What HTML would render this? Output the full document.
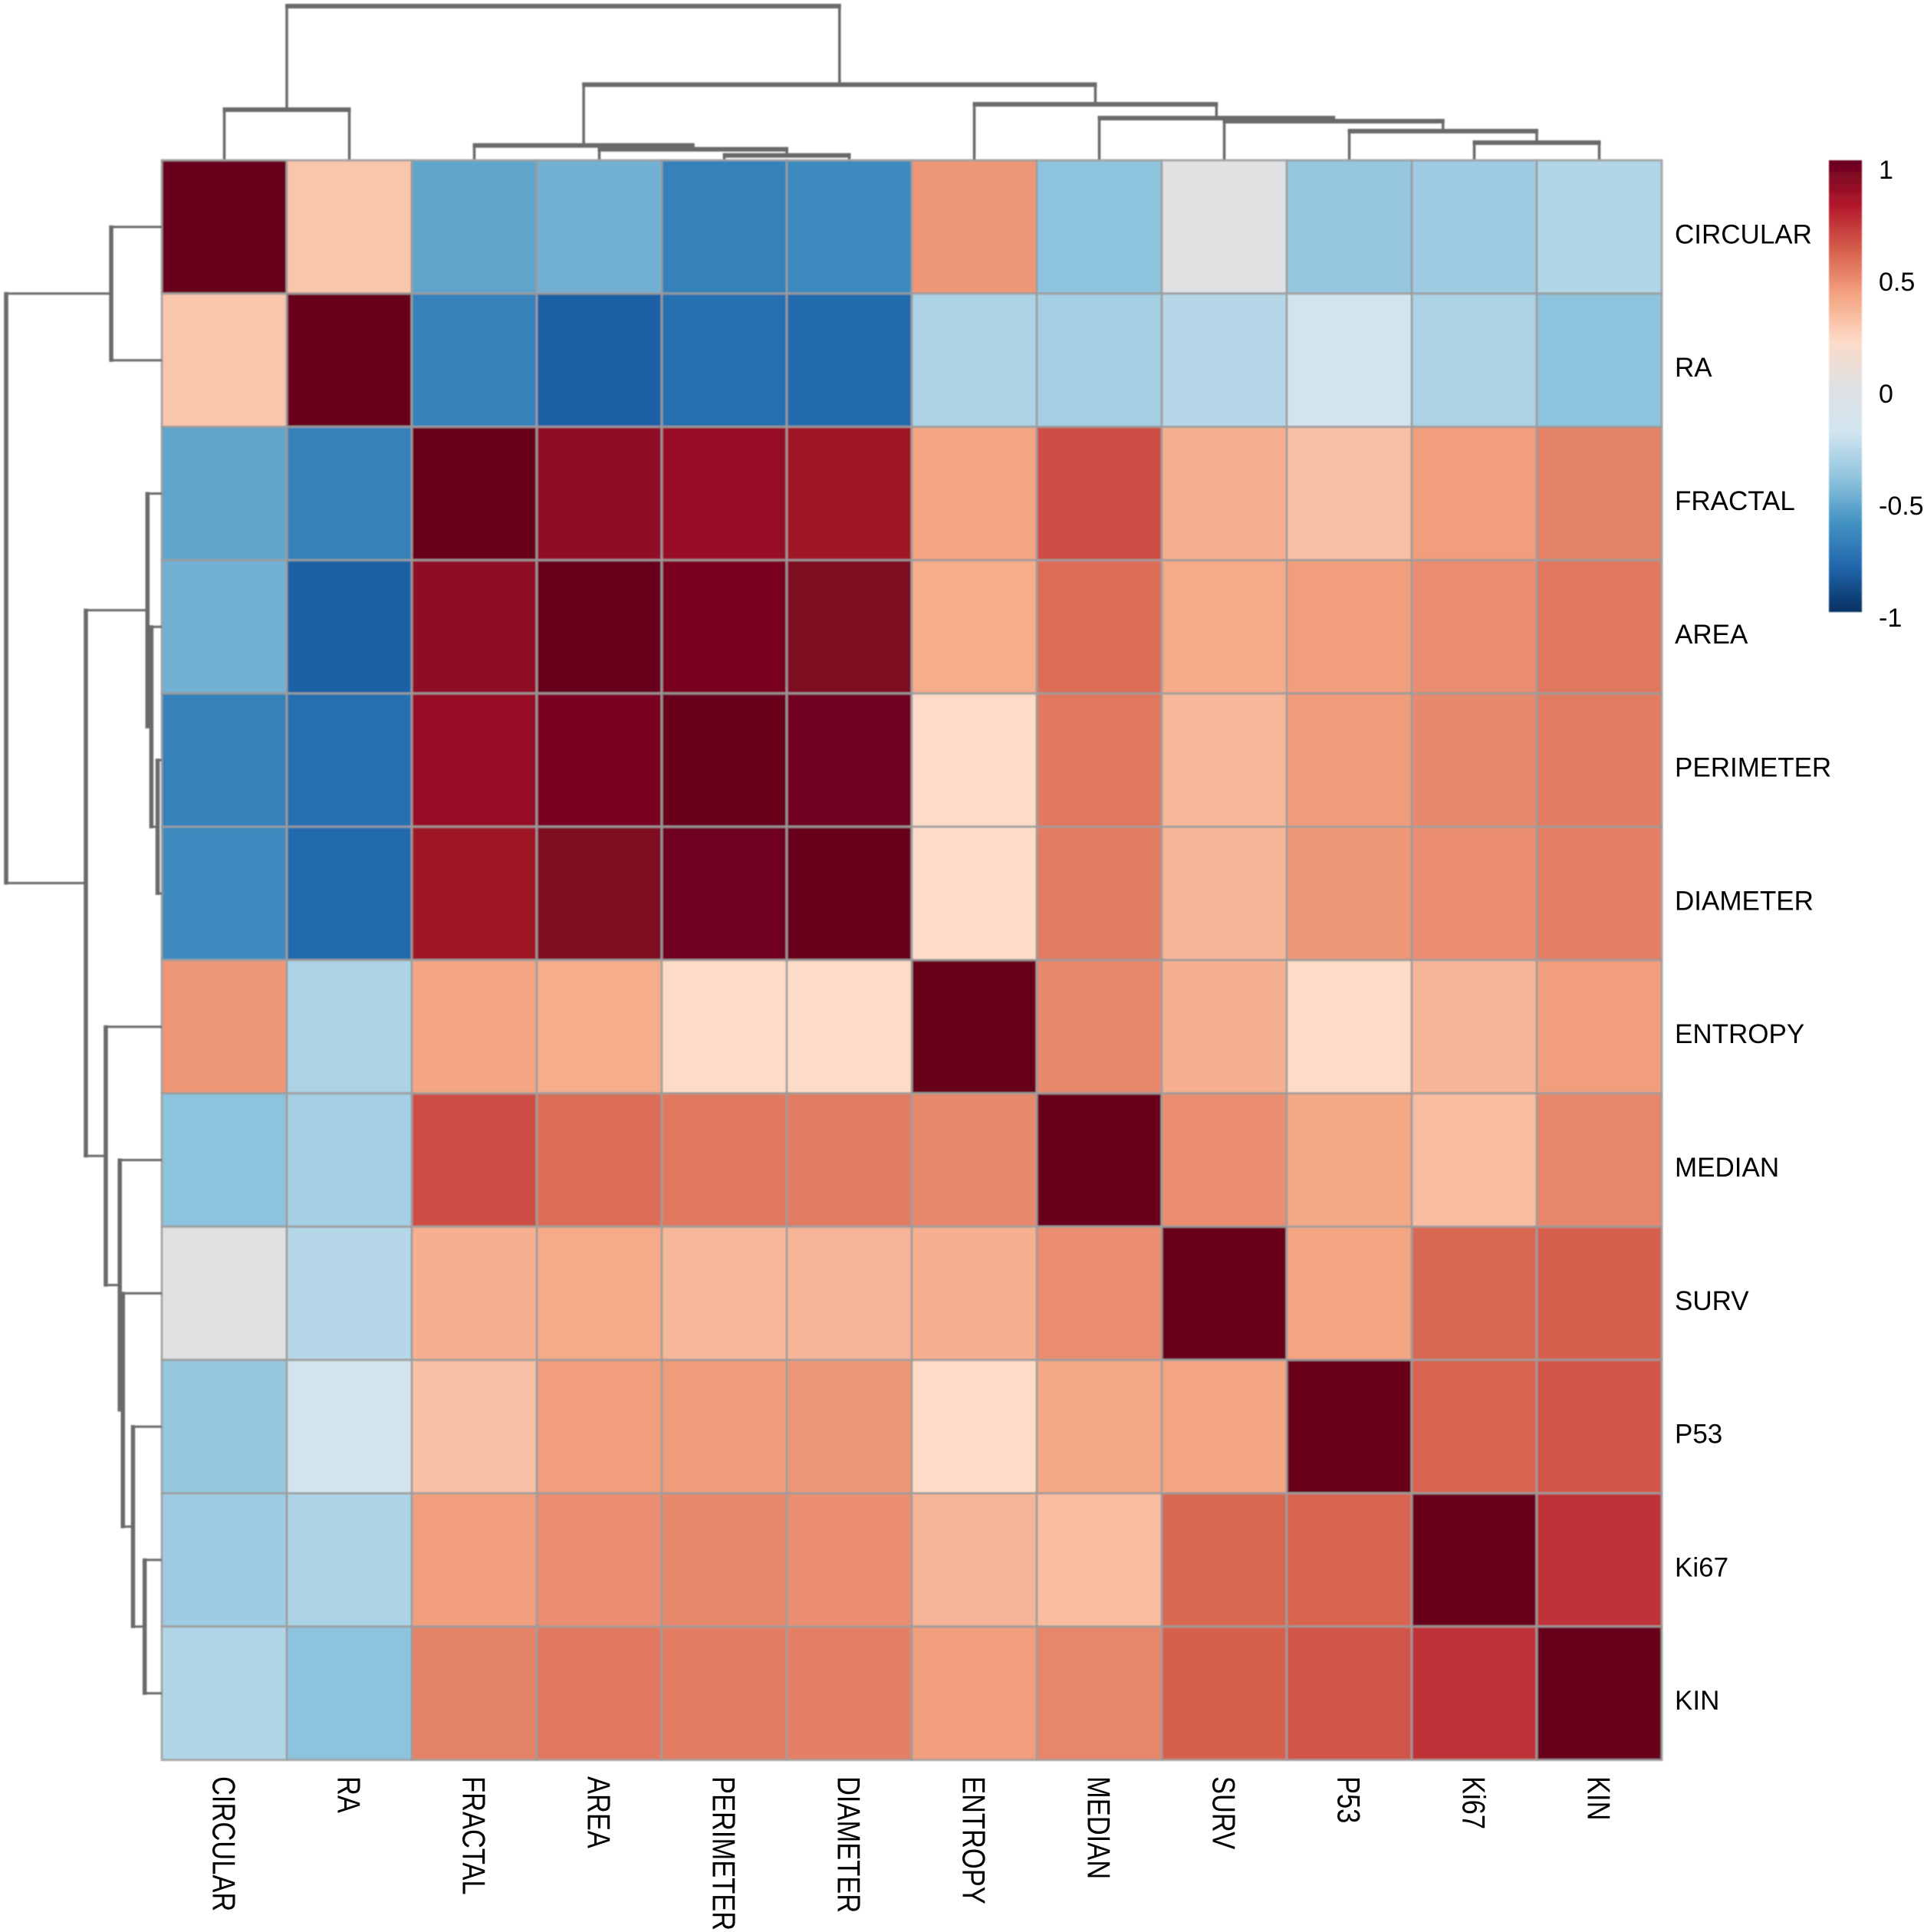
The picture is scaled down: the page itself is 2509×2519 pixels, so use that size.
<!DOCTYPE html>
<html>
<head>
<meta charset="utf-8">
<title>Correlation heatmap</title>
<style>
html,body{margin:0;padding:0;background:#fff;}
svg{display:block;}
text{font-family:"Liberation Sans",sans-serif;fill:#000;}
</style>
</head>
<body>
<svg id="chart" xmlns="http://www.w3.org/2000/svg" width="2509" height="2519" viewBox="0 0 2509 2519">
  <defs>
    <filter id="soft" x="-5%" y="-5%" width="110%" height="110%"><feGaussianBlur stdDeviation="0.8"/></filter>
    <linearGradient id="legend-gradient" x1="0" y1="0" x2="0" y2="1"></linearGradient>
  </defs>
  <rect x="0" y="0" width="2509" height="2519" fill="#ffffff"/>
</svg>
<script>
const variables = ["CIRCULAR","RA","FRACTAL","AREA","PERIMETER","DIAMETER","ENTROPY","MEDIAN","SURV","P53","Ki67","KIN"];

const rowCircular  = [1,.28,-.53,-.48,-.68,-.64,.44,-.41,0,-.39,-.36,-.3];
const rowRa        = [.28,1,-.68,-.82,-.76,-.78,-.32,-.34,-.29,-.18,-.32,-.41];
const rowFractal   = [-.53,-.68,1,.89,.87,.85,.4,.65,.36,.3,.42,.5];
const rowArea      = [-.48,-.82,.89,1,.95,.94,.37,.56,.38,.42,.47,.53];
const rowPerimeter = [-.68,-.76,.87,.95,1,.98,.2,.53,.33,.43,.48,.52];
const rowDiameter  = [-.64,-.78,.85,.94,.98,1,.2,.52,.34,.44,.47,.51];
const rowEntropy   = [.44,-.32,.4,.37,.2,.2,1,.48,.36,.2,.34,.42];
const rowMedian    = [-.41,-.34,.65,.56,.53,.52,.48,1,.47,.39,.31,.49];
const rowSurv      = [0,-.29,.36,.38,.33,.34,.36,.47,1,.4,.58,.6];
const rowP53       = [-.39,-.18,.3,.42,.43,.44,.2,.39,.4,1,.59,.63];
const rowKi67      = [-.36,-.32,.42,.47,.48,.47,.34,.31,.58,.59,1,.73];
const rowKin       = [-.3,-.41,.5,.53,.52,.51,.42,.49,.6,.63,.73,1];

/* Hierarchical clustering: negative ids are leaves (-(index+1)), positive ids are earlier merges (1-based). */
const mergeLeft   = [-5,-4,-3,-11,-10,-9,-8,-7,3,-1,10];
const mergeRight  = [-6,1,2,-12,4,5,6,7,8,-2,9];
const mergeHeight = [.027,.067,.092,.11,.185,.25,.27,.36,.488,.325,1];

const legendTicks = [1,0.5,0,-0.5,-1];
const paletteValues = [-1,-.8,-.6,-.4,-.2,0,.2,.4,.6,.8,1];
const paletteColors = ["#053061","#2166AC","#4393C3","#92C5DE","#D1E5F0","#DFE1E3","#FDDBC7","#F4A582","#D6604D","#B2182B","#67001F"];

const corrRows = [rowCircular,rowRa,rowFractal,rowArea,rowPerimeter,rowDiameter,rowEntropy,rowMedian,rowSurv,rowP53,rowKi67,rowKin];

const NS = "http://www.w3.org/2000/svg";
const svg = document.getElementById("chart");

const gridLeft = 211, gridTop = 209, cellW = 163, cellH = 173.8;
const colX = i => gridLeft + i * cellW;
const rowY = i => gridTop + i * cellH;
const colCenter = i => colX(i) + cellW / 2;
const rowCenter = i => rowY(i) + cellH / 2;
const colDendroY = h => gridTop - 1 - h * 200;
const rowDendroX = h => gridLeft - h * 203;
const legendTop = 209, legendBottom = 798;
const legendTickY = v => 513 - v * 292;

function make(tag, attrs, parent) {
  const el = document.createElementNS(NS, tag);
  for (const k in attrs) el.setAttribute(k, attrs[k]);
  (parent || svg).appendChild(el);
  return el;
}
function hexToRgb(h){return [1,3,5].map(i=>parseInt(h.substr(i,2),16));}
function colorFor(v){
  const c = Math.max(-1, Math.min(1, v));
  let i = 0;
  while (i < paletteValues.length - 2 && c > paletteValues[i + 1]) i++;
  const t = (c - paletteValues[i]) / (paletteValues[i + 1] - paletteValues[i]);
  const a = hexToRgb(paletteColors[i]), b = hexToRgb(paletteColors[i + 1]);
  return "rgb(" + a.map((x, k) => Math.round(x + (b[k] - x) * t)).join(",") + ")";
}

/* heatmap cells */
const heatmap = make("g", {filter: "url(#soft)"});


corrRows.forEach((row, r) => {
  row.forEach((v, c) => {
    const cell = make("rect", {x: colX(c), y: rowY(r), width: cellW, height: cellH, fill: colorFor(v), stroke: "#9c9c9c", "stroke-width": 3, "stroke-opacity": 0.85}, heatmap);
    
    
    const tip = make("title", {}, cell);
    tip.textContent = variables[r] + " / " + variables[c] + ": " + v;
  });
});

/* dendrograms drawn from the merge arrays */
function leafOrNodePos(id, nodePos, leafPos){ return id < 0 ? leafPos(-id - 1) : nodePos[id - 1]; }
function leafOrNodeH(id){ return id < 0 ? 0 : mergeHeight[id - 1]; }

const colDendro = make("g", {stroke: "#6a6a6a", fill: "none", filter: "url(#soft)"});


const rowDendro = make("g", {stroke: "#6a6a6a", fill: "none", filter: "url(#soft)"});



const colNodePos = [], rowNodePos = [];
mergeHeight.forEach((h, m) => {
  const l = mergeLeft[m], r = mergeRight[m];
  const xl = leafOrNodePos(l, colNodePos, colCenter), xr = leafOrNodePos(r, colNodePos, colCenter);
  const yl = leafOrNodePos(l, rowNodePos, rowCenter), yr = leafOrNodePos(r, rowNodePos, rowCenter);
  colNodePos.push((xl + xr) / 2);
  rowNodePos.push((yl + yr) / 2);
  const hl = leafOrNodeH(l), hr = leafOrNodeH(r);

  const ty = colDendroY(h);
  const cBar = make("line", {x1: xl - 2, x2: xr + 2, y1: ty, y2: ty, "stroke-width": 6}, colDendro);
  
  
  const cL = make("line", {x1: xl, x2: xl, y1: ty, y2: colDendroY(hl), "stroke-width": 3.5}, colDendro);
  
  
  const cR = make("line", {x1: xr, x2: xr, y1: ty, y2: colDendroY(hr), "stroke-width": 3.5}, colDendro);
  
  

  const tx = rowDendroX(h);
  const rBar = make("line", {x1: tx, x2: tx, y1: yl - 2, y2: yr + 2, "stroke-width": 5.5}, rowDendro);
  
  
  const rL = make("line", {x1: tx, x2: rowDendroX(hl), y1: yl, y2: yl, "stroke-width": 3}, rowDendro);
  
  
  const rR = make("line", {x1: tx, x2: rowDendroX(hr), y1: yr, y2: yr, "stroke-width": 3}, rowDendro);
  
  
});

/* labels */
variables.forEach((name, i) => {
  const rl = make("text", {x: 2184, y: rowCenter(i) + 21.5, "font-size": 35});
  rl.textContent = name;
  
  

  const bx = colCenter(i) - 15, by = 2316;
  const cl = make("text", {transform: "translate(" + bx + "," + by + ") rotate(90) scale(1,1.2)", x: 0, y: 0, "font-size": 34.5});
  cl.textContent = name;
  
  
});

/* colour legend */
const gradient = document.getElementById("legend-gradient");
paletteValues.forEach((v, i) => {
  const stop = make("stop", {offset: ((1 - v) / 2 * 100) + "%", "stop-color": paletteColors[i]});
  gradient.insertBefore(stop, gradient.firstChild);
});
const legendBar = make("rect", {x: 2385, y: legendTop, width: 43, height: legendBottom - legendTop, fill: "url(#legend-gradient)", filter: "url(#soft)"});


legendTicks.forEach(v => {
  const t = make("text", {x: 2450, y: legendTickY(v) + 12, "font-size": 34});
  t.textContent = String(v);
  
  
});
</script>
</body>
</html>
